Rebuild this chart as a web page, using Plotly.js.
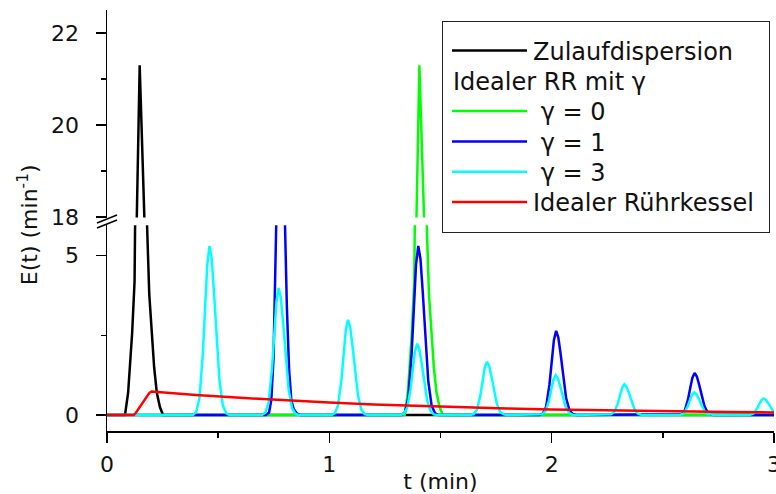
<!DOCTYPE html>
<html><head><meta charset="utf-8">
<script src="https://cdn.plot.ly/plotly-3.0.1.min.js"></script>
<style>html,body{margin:0;padding:0;background:#fff}#chart{width:776px;height:494px}</style>
</head><body><div id="chart"></div>
<script>
// ---- data ----
const legendNames = ['Zulaufdispersion', 'Idealer RR mit \u03b3', '\u00a0\u03b3 = 0', '\u00a0\u03b3 = 1', '\u00a0\u03b3 = 3', 'Idealer R\u00fchrkessel'];

// Zulaufdispersion (black)
const tZulauf = [0, 0.081, 0.095, 0.113, 0.124, 0.130, 0.134, 0.147, 0.168, 0.174, 0.180, 0.190, 0.201, 0.212, 0.224, 0.238, 0.252, 3];
const eZulauf = [0, 0, 0.7, 2.56, 4.2, 6.5, 18.0, 21.3, 18.0, 10.0, 6.0, 3.8, 2.56, 1.5, 0.7, 0.25, 0, 0];

// gamma = 0 (green)
const tGamma0 = [0, 1.339, 1.353, 1.371, 1.382, 1.388, 1.392, 1.405, 1.426, 1.432, 1.438, 1.448, 1.459, 1.470, 1.482, 1.496, 1.510, 3];
const eGamma0 = [0, 0, 0.7, 2.56, 4.2, 6.5, 18.0, 21.3, 18.0, 10.0, 6.0, 3.8, 2.56, 1.5, 0.7, 0.25, 0, 0];

// gamma = 1 (blue)
const tGamma1 = [0,
  0.714, 0.729, 0.739, 0.749, 0.759, 0.769, 0.779, 0.789, 0.799, 0.809, 0.819, 0.829, 0.839, 0.854, 0.869,
  1.325, 1.340, 1.355, 1.370, 1.380, 1.390, 1.400, 1.410, 1.420, 1.430, 1.445, 1.460, 1.475, 1.490,
  1.945, 1.960, 1.975, 1.990, 2.000, 2.010, 2.020, 2.030, 2.040, 2.050, 2.065, 2.080, 2.095, 2.110,
  2.568, 2.583, 2.598, 2.613, 2.623, 2.633, 2.643, 2.653, 2.663, 2.673, 2.688, 2.703, 2.718, 2.733,
  3];
const eGamma1 = [0,
  0, 0.08, 0.47, 1.80, 4.88, 8.69, 10.6, 9.33, 6.47, 3.39, 1.43, 0.47, 0.2, 0.05, 0,
  0, 0.09, 0.53, 1.91, 3.37, 4.73, 5.31, 4.89, 3.88, 2.60, 1.06, 0.30, 0.06, 0,
  0, 0.04, 0.26, 0.95, 1.68, 2.35, 2.64, 2.43, 1.93, 1.29, 0.53, 0.15, 0.03, 0,
  0, 0.02, 0.13, 0.48, 0.84, 1.17, 1.32, 1.21, 0.96, 0.65, 0.26, 0.07, 0.01, 0,
  0];

// gamma = 3 (cyan)
const tGamma3 = [0,
  0.386, 0.401, 0.416, 0.431, 0.441, 0.451, 0.461, 0.471, 0.481, 0.491, 0.506, 0.521, 0.536, 0.551,
  0.697, 0.712, 0.727, 0.742, 0.752, 0.762, 0.772, 0.782, 0.792, 0.802, 0.817, 0.832, 0.847, 0.862,
  1.009, 1.024, 1.039, 1.054, 1.064, 1.074, 1.084, 1.094, 1.104, 1.114, 1.129, 1.144, 1.159, 1.174,
  1.320, 1.335, 1.350, 1.365, 1.375, 1.385, 1.395, 1.405, 1.415, 1.425, 1.440, 1.455, 1.470, 1.485,
  1.634, 1.649, 1.664, 1.679, 1.689, 1.699, 1.709, 1.719, 1.729, 1.739, 1.754, 1.769, 1.784, 1.799,
  1.943, 1.958, 1.973, 1.988, 1.998, 2.008, 2.018, 2.028, 2.038, 2.048, 2.063, 2.078, 2.093, 2.108,
  2.252, 2.267, 2.282, 2.297, 2.307, 2.317, 2.327, 2.337, 2.347, 2.357, 2.372, 2.387, 2.402, 2.417,
  2.566, 2.581, 2.596, 2.611, 2.621, 2.631, 2.641, 2.651, 2.661, 2.671, 2.686, 2.701, 2.716, 2.731,
  2.878, 2.893, 2.908, 2.923, 2.933, 2.943, 2.953, 2.963, 2.973, 2.983, 2.998, 3.013, 3.028, 3.043];
const eGamma3 = [0,
  0, 0.09, 0.53, 1.91, 3.37, 4.73, 5.31, 4.89, 3.88, 2.60, 1.06, 0.30, 0.06, 0,
  0, 0.07, 0.40, 1.44, 2.53, 3.55, 3.99, 3.67, 2.91, 1.96, 0.80, 0.22, 0.04, 0,
  0, 0.05, 0.30, 1.08, 1.90, 2.66, 2.99, 2.75, 2.18, 1.47, 0.60, 0.17, 0.03, 0,
  0, 0.04, 0.22, 0.81, 1.42, 1.99, 2.24, 2.06, 1.64, 1.10, 0.45, 0.13, 0.02, 0,
  0, 0.03, 0.17, 0.60, 1.06, 1.49, 1.67, 1.54, 1.22, 0.82, 0.33, 0.09, 0.02, 0,
  0, 0.02, 0.13, 0.45, 0.79, 1.11, 1.25, 1.15, 0.91, 0.61, 0.25, 0.07, 0.01, 0,
  0, 0.02, 0.10, 0.35, 0.61, 0.85, 0.96, 0.88, 0.70, 0.47, 0.19, 0.05, 0.01, 0,
  0, 0.01, 0.07, 0.26, 0.45, 0.63, 0.71, 0.65, 0.52, 0.35, 0.14, 0.04, 0.01, 0,
  0, 0.01, 0.05, 0.19, 0.33, 0.46, 0.52, 0.48, 0.38, 0.25, 0.10, 0.03, 0.01, 0];

// Idealer Ruehrkessel (red)
const tKessel = [0, 0.12, 0.13, 0.14, 0.15, 0.16, 0.17, 0.18, 0.19, 0.20, 0.25, 0.4, 0.6, 0.8, 1.0, 1.2, 1.4, 1.6, 1.8, 2.0, 2.2, 2.4, 2.6, 2.8, 3.0];
const eKessel = [0, 0, 0.07, 0.17, 0.28, 0.39, 0.50, 0.61, 0.69, 0.74, 0.71, 0.63, 0.54, 0.46, 0.39, 0.33, 0.285, 0.24, 0.205, 0.175, 0.15, 0.128, 0.109, 0.093, 0.08];

const xTitle = 't (min)';
const yTitle = 'E(t) (min<sup>-1</sup>)';

// ---- chart ----
const FONT = 'DejaVu Sans, sans-serif';
const series = [
  {x: tZulauf, y: eZulauf, name: legendNames[0], color: '#000000'},
  {x: [null], y: [null], name: legendNames[1], color: 'rgba(0,0,0,0)', header: true},
  {x: tGamma0, y: eGamma0, name: legendNames[2], color: '#00ff00'},
  {x: tGamma1, y: eGamma1, name: legendNames[3], color: '#0000ff'},
  {x: tGamma3, y: eGamma3, name: legendNames[4], color: '#00ffff'},
  {x: tKessel, y: eKessel, name: legendNames[5], color: '#ff0000'}
];
const LW = 2.5;
const data = [];
series.forEach(s => data.push({x: s.x, y: s.y, name: s.name, type: 'scatter', mode: 'lines',
  xaxis: 'x', yaxis: 'y', line: {color: s.color, width: s.header ? 0 : LW}, showlegend: true, hoverinfo: 'skip'}));
series.forEach(s => { if (!s.header) data.push({x: s.x, y: s.y, name: s.name, type: 'scatter', mode: 'lines',
  xaxis: 'x', yaxis: 'y2', line: {color: s.color, width: LW}, showlegend: false, hoverinfo: 'skip'}); });

const axCommon = {showline: true, linecolor: '#000', linewidth: 1.5, ticks: 'outside', ticklen: 10, tickwidth: 1.5,
  tickcolor: '#000', showgrid: false, zeroline: false, tickfont: {family: FONT, size: 22, color: '#111'}, fixedrange: true};

const layout = {
  width: 776, height: 494,
  margin: {l: 107, r: 2, t: 10, b: 63},
  paper_bgcolor: '#fff', plot_bgcolor: '#fff',
  font: {family: FONT, size: 22, color: '#111'},
  showlegend: true,
  legend: {x: 0.5022, y: 0.9739, xanchor: 'left', yanchor: 'top', bgcolor: '#fff', bordercolor: '#222', borderwidth: 1,
    font: {family: FONT, size: 24, color: '#111'}, itemwidth: 80, traceorder: 'normal'},
  xaxis: Object.assign({}, axCommon, {range: [0, 3], anchor: 'y', dtick: 1, tick0: 0, ticklabeloverflow: 'allow',
    ticklabelstandoff: 3,
    minor: {ticks: 'outside', ticklen: 5, tickwidth: 1.5, tickcolor: '#000', dtick: 0.5, showgrid: false},
    title: {text: xTitle, font: {family: FONT, size: 22, color: '#111'}, standoff: 4}}),
  yaxis: Object.assign({}, axCommon, {domain: [0, 0.489], range: [-0.502, 5.96], anchor: 'x', dtick: 5, tick0: 0,
    ticklabelstandoff: 12,
    minor: {ticks: 'outside', ticklen: 5, tickwidth: 1.5, tickcolor: '#000', dtick: 2.5, showgrid: false}}),
  yaxis2: Object.assign({}, axCommon, {domain: [0.507, 1], range: [17.99, 22.5], anchor: 'x', dtick: 2, tick0: 0,
    ticklabelstandoff: 12,
    minor: {ticks: 'outside', ticklen: 5, tickwidth: 1.5, tickcolor: '#000', dtick: 1, showgrid: false}}),
  annotations: [
    {text: yTitle, xref: 'paper', yref: 'paper', x: -0.1184, y: 0.489, textangle: -90, showarrow: false,
     xanchor: 'center', yanchor: 'middle', font: {family: FONT, size: 22, color: '#111'}}
  ],
  shapes: [
    {type: 'line', xref: 'paper', yref: 'paper', x0: -0.015, y0: 0.4822, x1: 0.015, y1: 0.5012, line: {color: '#000', width: 1.5}},
    {type: 'line', xref: 'paper', yref: 'paper', x0: -0.015, y0: 0.4941, x1: 0.015, y1: 0.5131, line: {color: '#000', width: 1.5}}
  ]
};

const gd = document.getElementById('chart');
Plotly.newPlot(gd, data, layout, {staticPlot: true, displayModeBar: false}).then(function () {
  const leg = gd.querySelector('g.legend');
  if (!leg) return;
  leg.setAttribute('transform', 'translate(442,21)');
  const bg = leg.querySelector('rect.bg');
  if (bg) { bg.setAttribute('width', 327); bg.setAttribute('height', 211); bg.setAttribute('x', 0.5); bg.setAttribute('y', 0.5); }
  const sb = leg.querySelector('.scrollbox');
  if (sb) { sb.removeAttribute('clip-path'); sb.setAttribute('transform', 'translate(0,0)'); }
  const items = leg.querySelectorAll('g.traces');
  items.forEach(function (tr, i) {
    tr.setAttribute('transform', 'translate(1,' + (29.5 + 30.3 * i) + ')');
    const txt = tr.querySelector('text.legendtext');
    const p = tr.querySelector('g.legendlines path');
    const isHeader = txt && txt.textContent.indexOf('Idealer RR') === 0;
    if (p) p.setAttribute('d', isHeader ? 'M0,0' : 'M9,0h75');
    if (txt) {
      txt.setAttribute('x', isHeader ? 10 : 90);
      txt.querySelectorAll('tspan').forEach(function (ts) { if (ts.hasAttribute('x')) ts.setAttribute('x', isHeader ? 10 : 90); });
    }
  });
});
</script>
</body></html>
